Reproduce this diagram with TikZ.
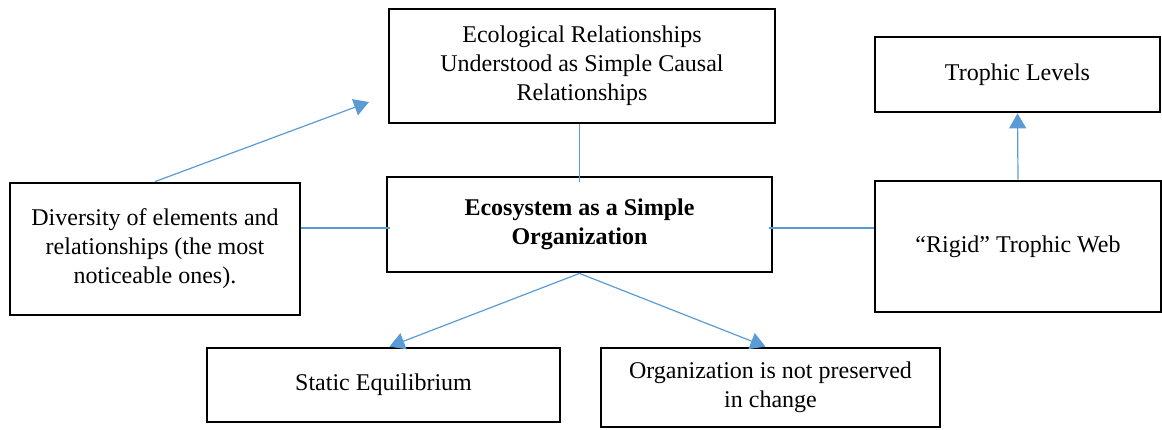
\documentclass[tikz,border=0pt]{standalone}
\usepackage{fontspec}
\setmainfont{Liberation Serif}
\usepackage{tikz}
\usetikzlibrary{arrows.meta,positioning,calc}
\usepackage{xcolor}
\definecolor{linkblue}{HTML}{5B9BD5}

\tikzset{
    box/.style={draw, line width=1.4pt, align=center, inner sep=0pt,
        font=\fontsize{12}{14.5}\selectfont},
    link/.style={draw=linkblue, line width=0.6pt},
    tip/.style={-{Triangle[width=8.5pt,length=7.5pt]}, linkblue}
}

\begin{document}
\begin{tikzpicture}[x=0.5pt, y=-0.5pt]
            \useasboundingbox (0,0) rectangle (1162,429);

            % Central box
            \node[box, minimum width=192.5pt, minimum height=47.5pt, font=\fontsize{12}{14.5}\selectfont\bfseries]
                (simple) at (579.5,224.5) {Ecosystem as a Simple\\Organization};

            % Top box
            \node[box, minimum width=193pt, minimum height=57pt] (causal) at (582,66)
                {Ecological Relationships\\Understood as Simple Causal\\Relationships};

            % Left box
            \node[box, minimum width=145pt, minimum height=66pt] (diversity) at (155,249)
                {Diversity of elements and\\relationships (the most\\noticeable ones).};

            % Right column
            \node[box, minimum width=142.5pt, minimum height=37.5pt] (levels) at (1017.5,74.5)
                {Trophic Levels};
            \node[box, minimum width=143pt, minimum height=65.5pt] (web) at (1018,246.5)
                {``Rigid'' Trophic Web};

            % Bottom row
            \node[box, minimum width=176.5pt, minimum height=37pt] (static) at (383.5,385)
                {Static Equilibrium};
            \node[box, minimum width=169.5pt, minimum height=39.5pt] (change) at (770.5,387.5)
                {Organization is not preserved\\in change};

            % Links
            \coordinate (causalin) at (369,102);
            \draw[link, tip] (diversity.north) -- (causalin);
            \draw[link] ([yshift=-3pt]simple.north) -- (simple.north |- causal.south);
            \draw[link] ([xshift=2pt,yshift=-1.75pt]simple.west) -- ([yshift=-1.75pt]simple.west -| diversity.east);
            \draw[link] ([xshift=-2pt,yshift=-1.75pt]simple.east) -- ([yshift=-1.75pt]simple.east -| web.west);
            \draw[link, tip] (web.north) -- (levels.south);
            \draw[link, tip] (simple.south) -- ([xshift=3pt]static.north);
            \draw[link, tip] (simple.south) -- ([xshift=-2.5pt]change.north);
        \end{tikzpicture}
\end{document}
